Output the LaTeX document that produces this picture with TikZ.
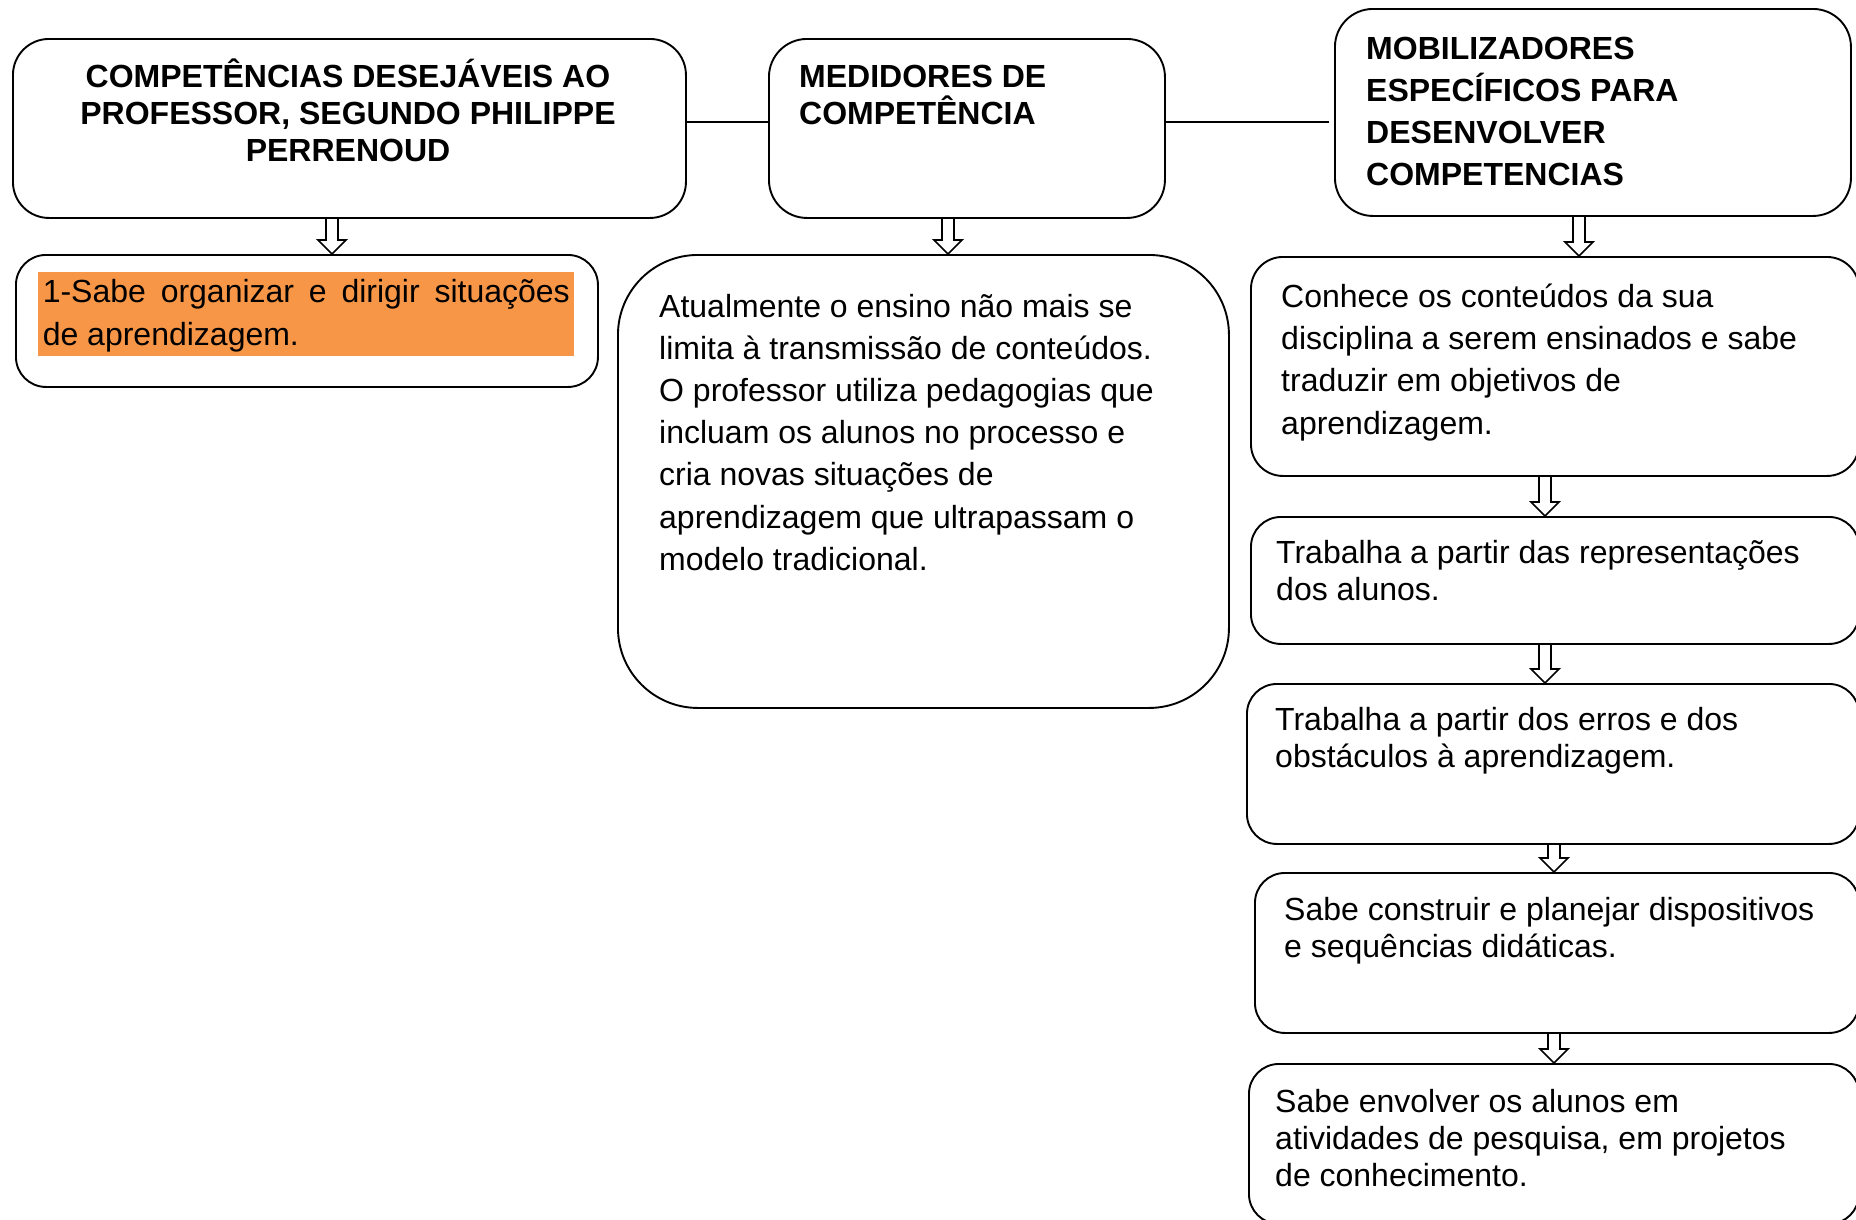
\documentclass[tikz,border=0pt]{standalone}
\usepackage{fontspec}
\setmainfont{Liberation Sans}
\usetikzlibrary{calc}
\definecolor{hiorange}{HTML}{F79646}
\tikzset{
  box/.style={draw=black, line width=1.9pt, rounded corners=#1, inner sep=0pt, anchor=north west, fill=white},
  box/.default=32pt,
  txt/.style={inner sep=0pt, anchor=base west, font=\fontsize{32}{#1}\selectfont},
  txtc/.style={inner sep=0pt, anchor=base, font=\fontsize{32}{#1}\selectfont},
  arr/.style={draw=black, line width=1.7pt, line join=miter},
  link/.style={draw=black, line width=1.7pt}
}
\newcommand\hollowarrow[2]{%
  \draw[arr] ($(#1)+(-6,0)$) -- ($(#2)+(-6,-14)$) -- ($(#2)+(-14,-14)$) -- (#2)
     -- ($(#2)+(14,-14)$) -- ($(#2)+(6,-14)$) -- ($(#1)+(6,0)$);}
\begin{document}
\begin{tikzpicture}[x=1pt,y=-1pt]
\useasboundingbox (0,0) rectangle (1856,1219);
\fill[white] (0,0) rectangle (1856,1219);

% top row
\node[box=36pt, minimum width=673pt, minimum height=179pt] (b1) at (12,38) {};
\node[box=38pt, minimum width=396pt, minimum height=179pt] (b2) at (768,38) {};
\node[box=38pt, minimum width=516pt, minimum height=207pt] (b3) at (1334,8) {};

% connectors
\coordinate (ly) at (0,122);
\draw[link] (b1.east |- ly) -- (b2.west |- ly);
\coordinate (le) at (1329,122);
\draw[link] (b2.east |- ly) -- (le);

% second row
\node[box=30pt, minimum width=582pt, minimum height=132pt] (b4) at (15,254) {};
\node[box=80pt, minimum width=611pt, minimum height=453pt] (b5) at (617,254) {};
\node[box=32pt, minimum width=608pt, minimum height=219pt] (b6) at (1250,256) {};
\node[box=30pt, minimum width=608pt, minimum height=127pt] (b7) at (1250,516) {};
\node[box=30pt, minimum width=612pt, minimum height=160pt] (b8) at (1246,683) {};
\node[box=30pt, minimum width=604pt, minimum height=160pt] (b9) at (1254,872) {};
\node[box=30pt, minimum width=610pt, minimum height=160pt] (b10) at (1248,1063) {};

\node[fill=hiorange, inner sep=0pt, anchor=north west, minimum width=536pt, minimum height=84pt] (hl) at (38,272) {};

% texts
\node[txtc=37] (t1) at (348,87) {\parbox[t]{660pt}{\centering\bfseries COMPETÊNCIAS DESEJÁVEIS AO\\PROFESSOR, SEGUNDO PHILIPPE\\PERRENOUD}};
\node[txt=37] (t2) at (799,87) {\parbox[t]{360pt}{\raggedright\bfseries MEDIDORES DE\\COMPETÊNCIA}};
\node[txt=42] (t3) at (1366,59) {\parbox[t]{470pt}{\raggedright\bfseries MOBILIZADORES\\ESPECÍFICOS PARA\\DESENVOLVER\\COMPETENCIAS}};
\node[txt=43] (t4) at (42.6,302) {\parbox[t]{527pt}{\makebox[527pt][s]{1-Sabe organizar e dirigir situações}\\de aprendizagem.}};
\node[txt=42.2] (t5) at (659,317) {\parbox[t]{560pt}{\raggedright Atualmente o ensino não mais se\\limita à transmissão de conteúdos.\\O professor utiliza pedagogias que\\incluam os alunos no processo e\\cria novas situações de\\aprendizagem que ultrapassam o\\modelo tradicional.}};
\node[txt=42.2] (t6) at (1281,307.5) {\parbox[t]{570pt}{\raggedright Conhece os conteúdos da sua\\disciplina a serem ensinados e sabe\\traduzir em objetivos de\\aprendizagem.}};
\node[txt=37] (t7) at (1276,563) {\parbox[t]{570pt}{\raggedright Trabalha a partir das representações\\dos alunos.}};
\node[txt=37] (t8) at (1275,730) {\parbox[t]{570pt}{\raggedright Trabalha a partir dos erros e dos\\obstáculos à aprendizagem.}};
\node[txt=37] (t9) at (1284,920.5) {\parbox[t]{570pt}{\raggedright Sabe construir e planejar dispositivos\\e sequências didáticas.}};
\node[txt=37.3] (t10) at (1275,1112) {\parbox[t]{570pt}{\raggedright Sabe envolver os alunos em\\atividades de pesquisa, em projetos\\de conhecimento.}};

% arrows
\coordinate (x1) at (332,0);
\coordinate (x2) at (948,0);
\coordinate (x3) at (1579,0);
\coordinate (x4) at (1545,0);
\coordinate (x5) at (1554,0);
\coordinate (a1s) at (x1 |- b1.south); \coordinate (a1e) at (x1 |- b4.north);
\coordinate (a2s) at (x2 |- b2.south); \coordinate (a2e) at (x2 |- b5.north);
\coordinate (a3s) at (x3 |- b3.south); \coordinate (a3e) at (x3 |- b6.north);
\coordinate (a4s) at (x4 |- b6.south); \coordinate (a4e) at (x4 |- b7.north);
\coordinate (a5s) at (x4 |- b7.south); \coordinate (a5e) at (x4 |- b8.north);
\coordinate (a6s) at (x5 |- b8.south); \coordinate (a6e) at (x5 |- b9.north);
\coordinate (a7s) at (x5 |- b9.south); \coordinate (a7e) at (x5 |- b10.north);
\hollowarrow{a1s}{a1e}
\hollowarrow{a2s}{a2e}
\hollowarrow{a3s}{a3e}
\hollowarrow{a4s}{a4e}
\hollowarrow{a5s}{a5e}
\hollowarrow{a6s}{a6e}
\hollowarrow{a7s}{a7e}
\end{tikzpicture}
\end{document}
